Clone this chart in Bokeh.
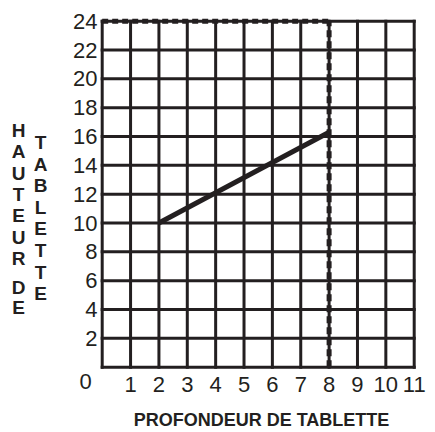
from bokeh.plotting import figure
from bokeh.models import Range1d
from bokeh.core.properties import value
from bokeh.embed import file_html
from bokeh.resources import INLINE

# ---- data ----
depth = [2, 8]             # profondeur de tablette
shelf_height = [10, 16.3]  # hauteur de tablette
x_ticks = [1, 2, 3, 4, 5, 6, 7, 8, 9, 10, 11]
y_ticks = [2, 4, 6, 8, 10, 12, 14, 16, 18, 20, 22, 24]
x_grid = [0, 1, 2, 3, 4, 5, 6, 7, 8, 9, 10, 11]
y_grid = [0, 2, 4, 6, 8, 10, 12, 14, 16, 18, 20, 22, 24]
origin_label = "0"
depth_limit = 8
height_limit = 24
x_title = "PROFONDEUR DE TABLETTE"
y_title_a = ["HAUTEUR", "DE"]
y_title_b = "TABLETTE"

INK = "#231f20"
FONT = "Liberation Sans"

# ---- layout (pixels on the canvas) ----
W, H = 432, 430
LEFT_PX, RIGHT_PX, TOP_PX, BOTTOM_PX = 101.7, 413.7, 20.7, 366.7
sx = (RIGHT_PX - LEFT_PX) / (x_grid[-1] - x_grid[0])
sy = (BOTTOM_PX - TOP_PX) / (y_grid[-1] - y_grid[0])

def dx(px):
    return x_grid[0] + (px - LEFT_PX) / sx

def dy(py):
    return y_grid[0] + (BOTTOM_PX - py) / sy

p = figure(width=W, height=H,
           x_range=Range1d(dx(0), dx(W)), y_range=Range1d(dy(H), dy(0)),
           output_backend="svg", toolbar_location=None,
           x_axis_location=None, y_axis_location=None,
           min_border=0)
p.xgrid.visible = False
p.ygrid.visible = False
p.outline_line_color = None
p.background_fill_color = "white"
p.border_fill_color = "white"

# grid
n_x, n_y = len(x_grid), len(y_grid)
p.segment(x0=x_grid, y0=[y_grid[0]] * n_x, x1=x_grid, y1=[y_grid[-1]] * n_x,
          line_color=INK, line_width=3, line_cap="square")
p.segment(x0=[x_grid[0]] * n_y, y0=y_grid, x1=[x_grid[-1]] * n_y, y1=y_grid,
          line_color=INK, line_width=3, line_cap="square")

# dashed limits
p.line(x=[x_grid[0], depth_limit], y=[height_limit, height_limit],
       line_color=INK, line_width=5, line_dash="6 4")
p.line(x=[depth_limit, depth_limit], y=[y_grid[0], height_limit],
       line_color=INK, line_width=5, line_dash="7 4")

# data line
p.line(x=depth, y=shelf_height, line_color=INK, line_width=5, line_cap="butt")

# tick labels
p.text(x=[dx(97)] * len(y_ticks), y=y_ticks, text=[str(t) for t in y_ticks],
       text_font=value(FONT), text_font_size=value("22px"), text_color=INK,
       text_align="right", text_baseline="middle")
p.text(x=x_ticks, y=[dy(383.5)] * len(x_ticks), text=[str(t) for t in x_ticks],
       text_font=value(FONT), text_font_size=value("22px"), text_color=INK,
       text_align="center", text_baseline="middle")
p.text(x=[dx(85)], y=[dy(381)], text=[origin_label],
       text_font=value(FONT), text_font_size=value("22px"), text_color=INK,
       text_align="center", text_baseline="middle")

# x title
p.text(x=[dx(261)], y=[dy(419)], text=[x_title],
       text_font=value(FONT), text_font_size=value("18px"),
       text_font_style="bold", text_color=INK,
       text_align="center", text_baseline="middle")

# y title: stacked letters
def stack(word, px, py0, step):
    p.text(x=[dx(px)] * len(word), y=[dy(py0 + i * step) for i in range(len(word))],
           text=list(word), text_font=value(FONT), text_font_size=value("19px"),
           text_font_style="bold", text_color=INK,
           text_align="center", text_baseline="middle")

stack(y_title_a[0], 18, 130, 21.3)
stack(y_title_a[1], 18, 287, 20)
stack(y_title_b, 40, 142, 21.6)

open("out.html", "w").write(file_html(p, INLINE))
